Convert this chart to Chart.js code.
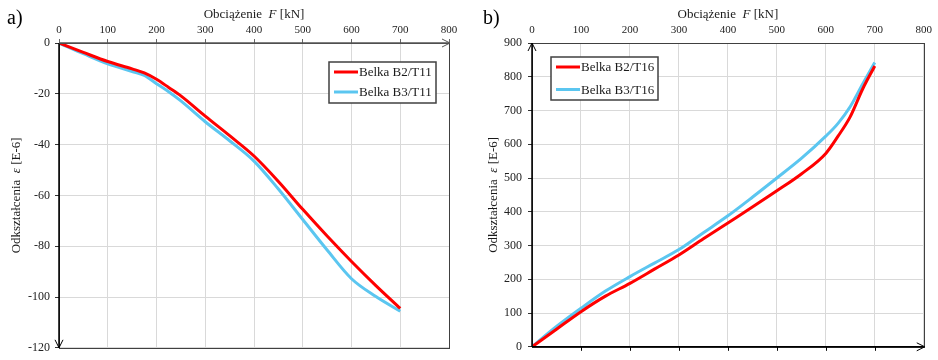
<!DOCTYPE html>
<html>
<head>
<meta charset="utf-8">
<script src="https://cdn.jsdelivr.net/npm/chart.js@4.4.1/dist/chart.umd.min.js"></script>
<style>
  html, body { margin: 0; padding: 0; background: #fff; }
  #wrap { position: relative; width: 938px; height: 360px; }
  canvas { position: absolute; top: 0; }
</style>
</head>
<body>
<div id="wrap">
  <canvas id="chartA" width="469" height="360" style="left:0"></canvas>
  <canvas id="chartB" width="468" height="360" style="left:470px"></canvas>
</div>
<script>
// a) tension bars T11
const loadsA = [0, 50, 100, 150, 175, 200, 225, 250, 300, 350, 400, 450, 500, 550, 600, 650, 700];
const strainB2T11 = [0, -3.7, -7.3, -10.2, -11.8, -14.3, -17.5, -20.8, -28.8, -36.5, -44.5, -54.5, -65.5, -76, -86, -95.5, -104.5];
const strainB3T11 = [0, -4.2, -8.2, -11.2, -12.8, -16, -19.2, -22.8, -31, -38.5, -46.5, -57.5, -69.5, -81.5, -92.8, -99.8, -105.6];

// b) T16
const loadsB = [0, 50, 100, 150, 200, 250, 300, 350, 400, 450, 500, 550, 600, 625, 650, 675, 700];
const strainB2T16 = [0, 52, 104, 150, 188, 230, 272, 320, 367, 414, 462, 512, 573, 624, 682, 763, 832];
const strainB3T16 = [0, 60, 114, 165, 208, 248, 288, 338, 388, 443, 500, 558, 624, 662, 712, 778, 842];

const labelsA = ["Belka B2/T11", "Belka B3/T11"];
const labelsB = ["Belka B2/T16", "Belka B3/T16"];

const RED = "#ff0000";
const BLUE = "#5bc6f0";
const SERIF = "'Liberation Serif', 'Times New Roman', serif";

function pts(xs, ys) {
  return xs.map((x, i) => ({ x: x, y: ys[i] }));
}

// draws a string made of parts with different styles, centred on (cx, cy)
function drawParts(ctx, parts, cx, cy) {
  let total = 0;
  parts.forEach((p) => {
    ctx.font = p[1];
    total += ctx.measureText(p[0]).width;
  });
  let x = cx - total / 2;
  ctx.textAlign = "left";
  ctx.textBaseline = "middle";
  parts.forEach((p) => {
    ctx.font = p[1];
    ctx.fillText(p[0], x, cy);
    x += ctx.measureText(p[0]).width;
  });
}

function arrow(ctx, x, y, dir) {
  const L = 8, W = 4;
  ctx.beginPath();
  if (dir === "right") { ctx.moveTo(x - L, y - W); ctx.lineTo(x, y); ctx.lineTo(x - L, y + W); }
  if (dir === "down") { ctx.moveTo(x - W, y - L); ctx.lineTo(x, y); ctx.lineTo(x + W, y - L); }
  if (dir === "up") { ctx.moveTo(x - W, y + L); ctx.lineTo(x, y); ctx.lineTo(x + W, y + L); }
  ctx.stroke();
}

const decorPlugin = {
  id: "decor",
  afterDraw(chart, args, opts) {
    const ctx = chart.ctx;
    const a = chart.chartArea;
    const xs = chart.scales.x;
    ctx.save();

    // frame
    ctx.strokeStyle = "#404040";
    ctx.lineWidth = 1;
    ctx.strokeRect(Math.round(a.left) + 0.5, Math.round(a.top) + 0.5, Math.round(a.right - a.left), Math.round(a.bottom - a.top));

    // axes through origin with arrows
    ctx.strokeStyle = "#000";
    ctx.lineWidth = 1.5;
    ctx.beginPath();
    ctx.moveTo(a.left, a.top);
    ctx.lineTo(a.left, a.bottom);
    ctx.stroke();
    const axisY = opts.xAxisAtBottom ? a.bottom : a.top;
    ctx.strokeStyle = opts.xAxisAtBottom ? "#000" : "#555";
    ctx.beginPath();
    ctx.moveTo(a.left, axisY);
    ctx.lineTo(a.right, axisY);
    ctx.stroke();
    ctx.lineWidth = 1;
    arrow(ctx, a.right + 1, axisY, "right");
    ctx.strokeStyle = "#000";
    arrow(ctx, a.left, opts.xAxisAtBottom ? a.top : a.bottom, opts.xAxisAtBottom ? "up" : "down");

    // tick marks under the bottom axis (panel b)
    if (opts.xAxisAtBottom) {
      ctx.beginPath();
      for (let v = 100; v < 800; v += 100) {
        const px = Math.round(xs.getPixelForValue(v)) + 0.5;
        ctx.moveTo(px, a.bottom);
        ctx.lineTo(px, a.bottom + 4);
      }
      ctx.stroke();
    }

    // titles
    ctx.fillStyle = "#1a1a1a";
    drawParts(ctx, [["Obciążenie  ", "13px " + SERIF], ["F", "italic 13px " + SERIF], [" [kN]", "13px " + SERIF]],
      (a.left + a.right) / 2, 15);
    ctx.save();
    ctx.translate(opts.yTitleX, (a.top + a.bottom) / 2);
    ctx.rotate(-Math.PI / 2);
    drawParts(ctx, [["Odkształcenia  ", "13px " + SERIF], ["ε", "italic 13px " + SERIF], [" [E-6]", "13px " + SERIF]], 0, 0);
    ctx.restore();

    ctx.font = "20px " + SERIF;
    ctx.textAlign = "left";
    ctx.textBaseline = "middle";
    ctx.fillStyle = "#000";
    ctx.fillText(opts.panel, opts.panelX, 19);

    // legend box
    const lg = opts.legend;
    ctx.fillStyle = "#fff";
    ctx.fillRect(lg.x, lg.y, lg.w, lg.h);
    ctx.strokeStyle = "#404040";
    ctx.lineWidth = 1.5;
    ctx.strokeRect(lg.x, lg.y, lg.w, lg.h);
    chart.data.datasets.forEach((ds, i) => {
      const ly = lg.y + lg.rowTop + i * lg.rowGap;
      ctx.strokeStyle = ds.borderColor;
      ctx.lineWidth = 3;
      ctx.beginPath();
      ctx.moveTo(lg.x + 5, ly);
      ctx.lineTo(lg.x + 29, ly);
      ctx.stroke();
      ctx.fillStyle = "#1a1a1a";
      ctx.font = "13px " + SERIF;
      ctx.textBaseline = "middle";
      ctx.fillText(ds.label, lg.x + 30, ly + 1);
    });
    ctx.restore();
  },
};

function makeChart(id, cfg) {
  return new Chart(document.getElementById(id).getContext("2d"), {
    type: "line",
    data: {
      datasets: cfg.series.map((s) => ({
        label: s.label,
        data: s.data,
        borderColor: s.color,
        backgroundColor: s.color,
        borderWidth: 3,
        pointRadius: 0,
        fill: false,
        cubicInterpolationMode: "monotone",
      })),
    },
    options: {
      responsive: false,
      animation: false,
      devicePixelRatio: 1,
      layout: { padding: { left: 0, top: 0, right: cfg.padRight, bottom: cfg.padBottom } },
      plugins: {
        legend: { display: false },
        tooltip: { enabled: false },
        decor: cfg.decor,
      },
      scales: {
        x: {
          type: "linear",
          position: "top",
          min: 0,
          max: 800,
          afterFit: (s) => { s.height = 43; },
          border: { display: false },
          grid: { color: "#d9d9d9", lineWidth: 1, drawTicks: cfg.topTicks, tickLength: 4, tickColor: "#666" },
          ticks: { stepSize: 100, padding: cfg.topTicks ? 2 : 6, color: "#222", font: { family: SERIF, size: 11 } },
        },
        y: {
          type: "linear",
          min: cfg.yMin,
          max: cfg.yMax,
          afterFit: (s) => { s.width = cfg.yWidth; },
          border: { display: false },
          grid: { color: "#d9d9d9", lineWidth: 1, drawTicks: true, tickLength: 4, tickColor: "#333" },
          ticks: { stepSize: cfg.yStep, padding: cfg.yPad, color: "#222", font: { family: SERIF, size: 12 } },
        },
      },
    },
    plugins: [decorPlugin],
  });
}

makeChart("chartA", {
  series: [
    { label: labelsA[0], data: pts(loadsA, strainB2T11), color: RED },
    { label: labelsA[1], data: pts(loadsA, strainB3T11), color: BLUE },
  ],
  yMin: -120, yMax: 0, yStep: 20,
  yWidth: 59, yPad: 5, padRight: 20, padBottom: 7, topTicks: true,
  decor: {
    panel: "a)", panelX: 7, yTitleX: 17, xAxisAtBottom: false,
    legend: { x: 329, y: 62, w: 107, h: 41, rowTop: 10, rowGap: 20 },
  },
});

makeChart("chartB", {
  series: [
    { label: labelsB[0], data: pts(loadsB, strainB2T16), color: RED },
    { label: labelsB[1], data: pts(loadsB, strainB3T16), color: BLUE },
  ],
  yMin: 0, yMax: 900, yStep: 100,
  yWidth: 62, yPad: 6, padRight: 12, padBottom: 12, topTicks: false,
  decor: {
    panel: "b)", panelX: 13, yTitleX: 24, xAxisAtBottom: true,
    legend: { x: 81, y: 57, w: 107, h: 43, rowTop: 10, rowGap: 22.5 },
  },
});
</script>
</body>
</html>
